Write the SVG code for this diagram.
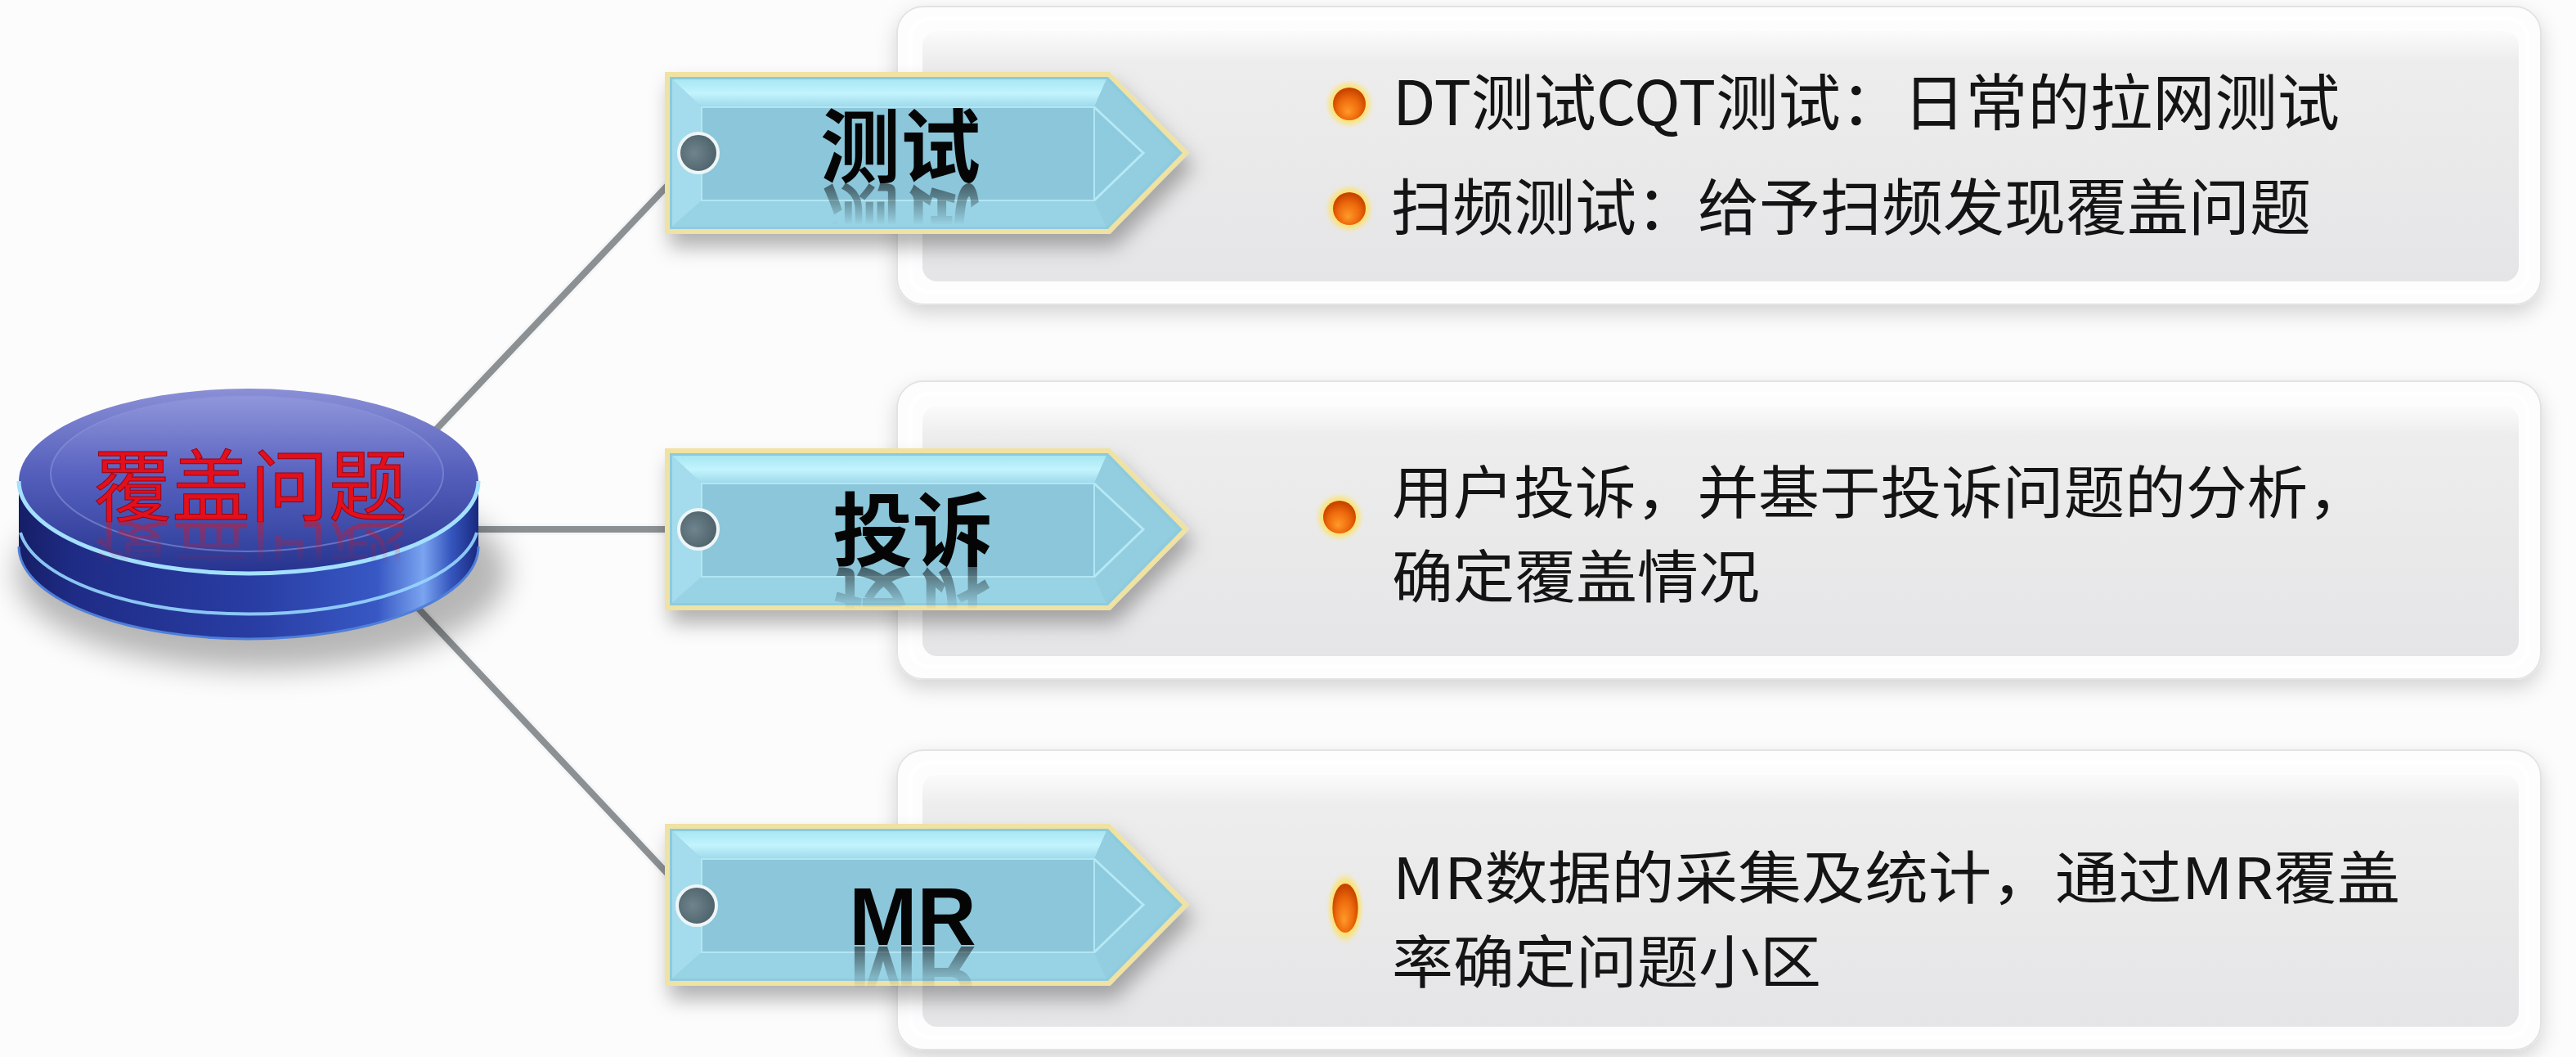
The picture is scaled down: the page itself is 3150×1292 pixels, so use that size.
<svg xmlns="http://www.w3.org/2000/svg" width="3150" height="1292" viewBox="0 0 3150 1292">
  <style>
    .ptxt { font-family: "Noto Sans CJK SC", "Noto Sans", sans-serif; font-size: 75px; fill: #141414; }
    .ptxt2 { font-family: "Noto Sans CJK SC", "Noto Sans", sans-serif; font-size: 70px; fill: #141414; }
    .ttxt { font-family: "Noto Sans CJK SC", "Liberation Sans", sans-serif; font-size: 98px; font-weight: 700; fill: #050505; text-anchor: middle; }
    .mr { font-family: "Liberation Sans", "Noto Sans CJK SC", sans-serif; font-size: 100px; font-weight: 700; fill: #050505; text-anchor: middle; }
    .conn-under { stroke: #f4f6f7; stroke-width: 14; stroke-linecap: round; fill: none; }
    .conn { stroke: #8c9093; stroke-width: 8; stroke-linecap: round; fill: none; }
    .dot { fill: url(#dotGrad); stroke: #eef5f7; stroke-width: 4; }
  </style>
  <defs>
    <filter id="pshadow" x="-5%" y="-10%" width="110%" height="130%">
      <feDropShadow dx="0" dy="10" stdDeviation="12" flood-color="#000" flood-opacity="0.16"/>
    </filter>
    <filter id="tshadow" x="-10%" y="-20%" width="125%" height="160%">
      <feDropShadow dx="6" dy="16" stdDeviation="12" flood-color="#000" flood-opacity="0.3"/>
    </filter>
    <filter id="blur15" x="-30%" y="-50%" width="160%" height="200%">
      <feGaussianBlur stdDeviation="18"/>
    </filter>
    <filter id="glow" x="-100%" y="-100%" width="300%" height="300%">
      <feGaussianBlur stdDeviation="3"/>
    </filter>
    <linearGradient id="panelFill" x1="0" y1="0" x2="0" y2="1">
      <stop offset="0" stop-color="#fbfbfb"/>
      <stop offset="0.12" stop-color="#ededed"/>
      <stop offset="1" stop-color="#e5e5e7"/>
    </linearGradient>
    <linearGradient id="bandTop" x1="0" y1="0" x2="0" y2="1">
      <stop offset="0" stop-color="#a8e6f4"/>
      <stop offset="0.5" stop-color="#c2f4fd"/>
      <stop offset="1" stop-color="#9ed8ea"/>
    </linearGradient>
    <linearGradient id="tagFill" x1="0" y1="0" x2="0" y2="1">
      <stop offset="0" stop-color="#8ccadd"/>
      <stop offset="1" stop-color="#8fcbde"/>
    </linearGradient>
    <radialGradient id="dotGrad" cx="0.4" cy="0.5" r="0.6">
      <stop offset="0" stop-color="#6f848d"/>
      <stop offset="1" stop-color="#4c606a"/>
    </radialGradient>
    <radialGradient id="bulletGrad" cx="0.5" cy="0.6" r="0.55" fx="0.45" fy="0.75">
      <stop offset="0" stop-color="#ff9a2a"/>
      <stop offset="0.6" stop-color="#ee6a0c"/>
      <stop offset="1" stop-color="#c84400"/>
    </radialGradient>
    <linearGradient id="sideGrad" x1="23" y1="0" x2="585" y2="0" gradientUnits="userSpaceOnUse">
      <stop offset="0" stop-color="#151e66"/>
      <stop offset="0.12" stop-color="#1f2c86"/>
      <stop offset="0.5" stop-color="#283ca2"/>
      <stop offset="0.78" stop-color="#3858c4"/>
      <stop offset="0.88" stop-color="#7aa4f0"/>
      <stop offset="0.94" stop-color="#3656be"/>
      <stop offset="1" stop-color="#18287e"/>
    </linearGradient>
    <linearGradient id="topGrad" x1="0" y1="475" x2="0" y2="701" gradientUnits="userSpaceOnUse">
      <stop offset="0" stop-color="#8a8fd6"/>
      <stop offset="0.45" stop-color="#5560bc"/>
      <stop offset="1" stop-color="#26348f"/>
    </linearGradient>
    <linearGradient id="innerGrad" x1="0" y1="485" x2="0" y2="675" gradientUnits="userSpaceOnUse">
      <stop offset="0" stop-color="#9096da"/>
      <stop offset="0.5" stop-color="#5862c0"/>
      <stop offset="1" stop-color="#33429f"/>
    </linearGradient>
    <linearGradient id="fadeTag" x1="0" y1="223" x2="0" y2="275" gradientUnits="userSpaceOnUse">
      <stop offset="0" stop-color="#fff" stop-opacity="0.55"/>
      <stop offset="1" stop-color="#fff" stop-opacity="0"/>
    </linearGradient>
    <mask id="tagMask" maskUnits="userSpaceOnUse" x="800" y="0" width="700" height="400">
      <rect x="800" y="223" width="700" height="58" fill="url(#fadeTag)"/>
    </mask>
    <linearGradient id="fadeDisk" x1="0" y1="637" x2="0" y2="690" gradientUnits="userSpaceOnUse">
      <stop offset="0" stop-color="#fff" stop-opacity="0.5"/>
      <stop offset="1" stop-color="#fff" stop-opacity="0"/>
    </linearGradient>
    <mask id="diskMask" maskUnits="userSpaceOnUse" x="0" y="400" width="700" height="400">
      <rect x="0" y="637" width="700" height="60" fill="url(#fadeDisk)"/>
    </mask>
    <g id="tagShape">
      <polygon points="816,91 1356,91 1450,187 1356,283 816,283" fill="url(#tagFill)"/>
      <polygon points="822,97 1353,97 1338,131 858,131" fill="url(#bandTop)"/>
      <polygon points="822,97 858,131 858,245 822,277" fill="#a4dced"/>
      <polygon points="822,277 858,245 1338,245 1353,277" fill="#98d3e5"/>
      <polygon points="1353,97 1440,187 1353,277 1338,245 1398,187 1338,131" fill="#92cee0"/>
      <rect x="858" y="131" width="480" height="114" fill="#8bc6da" stroke="#b2e6f3" stroke-width="2"/>
      <polyline points="1338,131 1398,187 1338,245" fill="none" stroke="#b6e9f5" stroke-width="3"/>
      <polygon points="816,91 1356,91 1450,187 1356,283 816,283" fill="none" stroke="#efe2a2" stroke-width="6" stroke-linejoin="miter"/>
    </g>
    <g id="bullet">
      <circle r="25" fill="#ffe15a" opacity="0.85" filter="url(#glow)"/>
      <circle r="20" fill="url(#bulletGrad)"/>
    </g>
  </defs>

  <rect width="3150" height="1292" fill="#fcfcfc"/>

  <!-- Panels -->
  <g id="panel1" filter="url(#pshadow)">
    <rect x="1097" y="8" width="2010" height="364" rx="32" fill="#fdfdfd" stroke="#e3e3e3" stroke-width="2"/>
    <rect x="1113" y="23" width="1978" height="334" rx="24" fill="none" stroke="#ffffff" stroke-width="5"/>
    <rect x="1128" y="38" width="1952" height="306" rx="18" fill="url(#panelFill)"/>
  </g>
  <g id="panel2" filter="url(#pshadow)">
    <rect x="1097" y="466" width="2010" height="364" rx="32" fill="#fdfdfd" stroke="#e3e3e3" stroke-width="2"/>
    <rect x="1113" y="481" width="1978" height="334" rx="24" fill="none" stroke="#ffffff" stroke-width="5"/>
    <rect x="1128" y="496" width="1952" height="306" rx="18" fill="url(#panelFill)"/>
  </g>
  <g id="panel3" filter="url(#pshadow)">
    <rect x="1097" y="917" width="2010" height="366" rx="32" fill="#fdfdfd" stroke="#e3e3e3" stroke-width="2"/>
    <rect x="1113" y="932" width="1978" height="336" rx="24" fill="none" stroke="#ffffff" stroke-width="5"/>
    <rect x="1128" y="947" width="1952" height="308" rx="18" fill="url(#panelFill)"/>
  </g>

  <!-- Panel texts -->
  <g id="text1">
    <use href="#bullet" x="1650" y="127"/>
    <text class="ptxt" x="1703" y="153" textLength="1158" lengthAdjust="spacingAndGlyphs">DT测试CQT测试：日常的拉网测试</text>
    <use href="#bullet" x="1650" y="255"/>
    <text class="ptxt" x="1701" y="281">扫频测试：给予扫频发现覆盖问题</text>
  </g>
  <g id="text2">
    <use href="#bullet" x="1638" y="632"/>
    <text class="ptxt2" x="1702" y="628" textLength="1195" lengthAdjust="spacingAndGlyphs">用户投诉，并基于投诉问题的分析，</text>
    <text class="ptxt2" x="1702" y="731" textLength="450" lengthAdjust="spacingAndGlyphs">确定覆盖情况</text>
  </g>
  <g id="text3">
    <g transform="translate(1645,1110) scale(0.78,1.5)">
      <use href="#bullet"/>
    </g>
    <text class="ptxt2" x="1703" y="1099" textLength="1232" lengthAdjust="spacingAndGlyphs">MR数据的采集及统计，通过MR覆盖</text>
    <text class="ptxt2" x="1702" y="1202" textLength="525" lengthAdjust="spacingAndGlyphs">率确定问题小区</text>
  </g>

  <!-- Connectors -->
  <g id="connectors">
    <line class="conn-under" x1="500" y1="560" x2="854" y2="187"/>
    <line class="conn" x1="500" y1="560" x2="854" y2="187"/>
    <line class="conn-under" x1="560" y1="647" x2="854" y2="647"/>
    <line class="conn" x1="560" y1="647" x2="854" y2="647"/>
    <line class="conn-under" x1="495" y1="726" x2="852" y2="1106"/>
    <line class="conn" x1="495" y1="726" x2="852" y2="1106"/>
  </g>

  <!-- Tags -->
  <g id="tag1">
    <use href="#tagShape" filter="url(#tshadow)"/>
    <circle class="dot" cx="854" cy="187" r="24"/>
    <text class="ttxt" x="1101" y="215">测试</text>
    <g mask="url(#tagMask)">
      <text class="ttxt" x="1101" y="215" transform="matrix(1,0,0,-1,0,448)" fill="#1a3a4a">测试</text>
    </g>
  </g>
  <g id="tag2" transform="translate(0,460)">
    <use href="#tagShape" filter="url(#tshadow)"/>
    <circle class="dot" cx="854" cy="187" r="24"/>
    <text class="ttxt" x="1116" y="224">投诉</text>
    <g mask="url(#tagMask)" transform="translate(0,10)">
      <text class="ttxt" x="1116" y="214" transform="matrix(1,0,0,-1,0,446)">投诉</text>
    </g>
  </g>
  <g id="tag3" transform="translate(0,919)">
    <use href="#tagShape" filter="url(#tshadow)"/>
    <circle class="dot" cx="852" cy="188" r="24"/>
    <text class="mr" x="1116" y="236">MR</text>
    <g mask="url(#tagMask)" transform="translate(0,14)">
      <text class="mr" x="1116" y="222" transform="matrix(1,0,0,-1,0,446)">MR</text>
    </g>
  </g>

  <!-- Central disk -->
  <g id="disk">
    <ellipse cx="320" cy="700" rx="300" ry="118" fill="#000" opacity="0.28" filter="url(#blur15)"/>
    <path d="M23,588 L23,668 A281,113 0 0 0 585,668 L585,588 Z" fill="url(#sideGrad)"/>
    <path d="M23,668 A281,113 0 0 0 585,668" fill="none" stroke="#4f7fd8" stroke-width="3"/>
    <path d="M25,651 A281,113 0 0 0 583,651" fill="none" stroke="#98d6ff" stroke-width="4" opacity="0.9"/>
    <ellipse cx="304" cy="588" rx="281" ry="113" fill="url(#topGrad)"/>
    <path d="M23,588 A281,113 0 0 0 585,588" fill="none" stroke="#a4e0ff" stroke-width="5"/>
    <ellipse cx="302" cy="579" rx="240" ry="95" fill="url(#innerGrad)" stroke="#8a92da" stroke-width="2" stroke-opacity="0.6"/>
    <text x="306" y="629" text-anchor="middle" font-family="Noto Sans CJK SC, Noto Sans, sans-serif" font-size="96" fill="#e2101c" stroke="#9a0010" stroke-width="1">覆盖问题</text>
    <g mask="url(#diskMask)">
      <text x="306" y="629" text-anchor="middle" transform="matrix(1,0,0,-1,0,1274)" font-family="Noto Sans CJK SC, Noto Sans, sans-serif" font-size="96" fill="#e2101c">覆盖问题</text>
    </g>
  </g>
</svg>
